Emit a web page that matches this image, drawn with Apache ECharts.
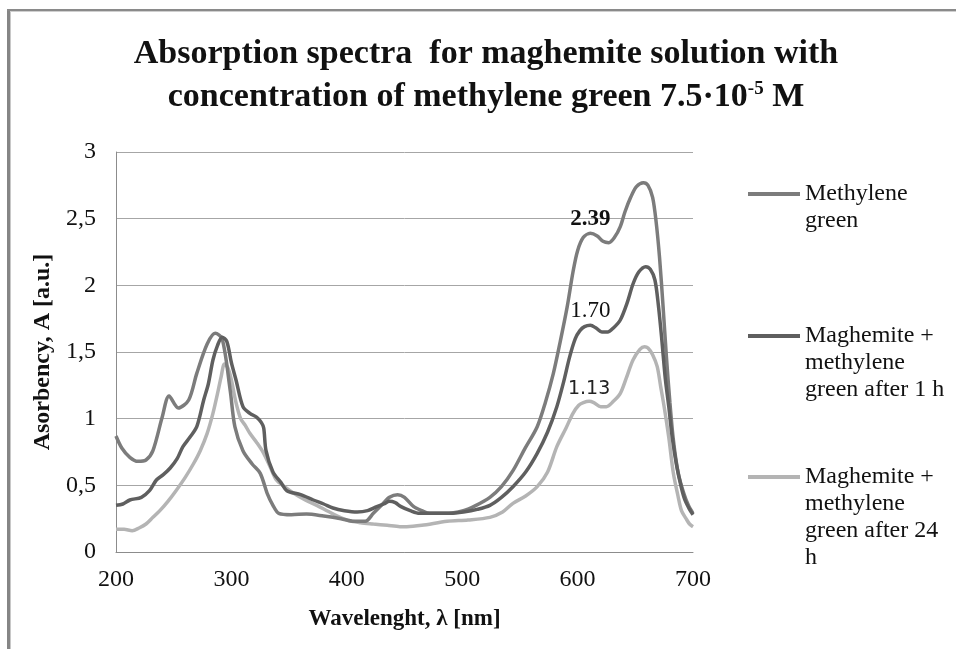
<!DOCTYPE html>
<html><head><meta charset="utf-8">
<script src="https://cdn.jsdelivr.net/npm/echarts@6/dist/echarts.min.js"></script>
<style>html,body{margin:0;padding:0;background:#fff}#c{width:956px;height:649px}</style>
</head><body><div id="c"></div>
<script>
var seriesNames = ['Methylene\ngreen', 'Maghemite +\nmethylene\ngreen after 1 h', 'Maghemite +\nmethylene\ngreen after 24\nh'];

var mgX = [200,205,212,219,226,232,240,246,254,263,270,279,286,292,299,303,310,318,325,331,336,341,352,365,380,395,406,416,423,430,437,444,450,458,465,472,485,501,512,524,534,544,554,565,572,579,585,591,596,600,605,611,617,622,627,632,637,641,646,651,657,661,665,668,671,674,677,680,683,687,692,696,700];
var mgY = [0.87,0.78,0.71,0.68,0.69,0.76,1.01,1.17,1.08,1.14,1.34,1.56,1.64,1.60,1.21,0.94,0.76,0.66,0.59,0.44,0.35,0.29,0.28,0.285,0.27,0.25,0.23,0.23,0.29,0.35,0.41,0.43,0.41,0.34,0.31,0.29,0.29,0.31,0.35,0.41,0.49,0.61,0.77,0.94,1.12,1.34,1.58,1.84,2.1,2.26,2.36,2.39,2.37,2.33,2.32,2.36,2.44,2.55,2.66,2.74,2.77,2.75,2.66,2.48,2.21,1.85,1.46,1.12,0.84,0.6,0.44,0.35,0.29];

var h1X = [200,206,212,222,229,235,241,247,253,258,264,270,276,280,284,288,292,296,300,304,310,316,322,326,328,330,336,343,348,360,371,380,388,398,409,418,426,432,437,442,447,455,463,475,490,501,513,524,534,544,555,565,574,582,588,593,598,602,606,611,616,621,626,631,637,643,648,653,659,663,667,670,673,676,679,682,686,690,693,697,700];
var h1Y = [0.35,0.36,0.39,0.41,0.46,0.54,0.58,0.63,0.70,0.79,0.86,0.94,1.14,1.26,1.44,1.55,1.61,1.58,1.42,1.29,1.09,1.04,1.01,0.97,0.93,0.76,0.60,0.52,0.46,0.43,0.39,0.36,0.33,0.31,0.30,0.31,0.34,0.36,0.38,0.37,0.34,0.31,0.29,0.29,0.29,0.30,0.32,0.35,0.41,0.49,0.6,0.74,0.9,1.09,1.28,1.46,1.6,1.66,1.69,1.70,1.68,1.65,1.65,1.68,1.74,1.87,2.01,2.1,2.14,2.12,2.04,1.85,1.59,1.3,1.09,0.86,0.64,0.48,0.39,0.32,0.28];

var h24X = [200,207,214,220,226,232,238,245,252,260,267,273,279,284,288,291,294,297,300,304,308,312,316,322,328,334,339,346,354,364,374,387,400,412,423,435,446,452,465,487,505,524,535,544,555,565,574,582,590,596,601,605,610,614,620,625,631,637,642,648,654,658,661,665,669,672,675,679,683,687,690,694,697,700];
var h24Y = [0.17,0.17,0.16,0.18,0.21,0.26,0.31,0.38,0.46,0.56,0.66,0.76,0.89,1.04,1.19,1.31,1.41,1.38,1.29,1.12,1.0,0.95,0.89,0.82,0.74,0.63,0.54,0.49,0.44,0.39,0.35,0.29,0.24,0.22,0.21,0.20,0.19,0.19,0.2,0.23,0.24,0.26,0.3,0.365,0.42,0.49,0.6,0.79,0.93,1.04,1.1,1.12,1.13,1.12,1.09,1.09,1.13,1.19,1.3,1.44,1.52,1.54,1.53,1.48,1.39,1.24,1.09,0.86,0.59,0.42,0.31,0.25,0.21,0.19];

var peakLabelX = [611, 611, 610];
var xTicks = {min: 200, max: 700, interval: 100};
var yTicks = {min: 0, max: 3, interval: 0.5};

var serif = 'Liberation Serif';
var labelStyles = [
  {fontFamily: serif, fontWeight: 'bold', fontSize: 23, color: '#111'},
  {fontFamily: serif, fontWeight: 'normal', fontSize: 23, color: '#111'},
  {fontFamily: 'DejaVu Sans', fontWeight: 'normal', fontSize: 19, color: '#222'}
];

function peakMark(xs, ys, idx) {
  var i = xs.indexOf(peakLabelX[idx]);
  return {
    symbol: 'circle', symbolSize: 2, silent: true,
    itemStyle: {color: 'rgba(0,0,0,0)'},
    label: Object.assign({show: true, position: 'top', distance: 2,
      formatter: function (p) { return Number(p.value).toFixed(2); }}, labelStyles[idx]),
    data: [{coord: [xs[i], ys[i]], value: ys[i]}]
  };
}

function pairs(xs, ys) { return xs.map(function (x, i) { return [x, ys[i]]; }); }

var colors = ['#7c7c7c', '#5f5f5f', '#b4b4b4'];
var lineH = 27;
var legendCenters = [194, 336, 477];
var legends = seriesNames.map(function (name, i) {
  var n = name.split('\n').length;
  var pad = new Array(n).join('\n');
  return {
    left: 748, top: legendCenters[i] - (2 * n - 1) * lineH / 2,
    padding: 0, itemWidth: 52, itemHeight: 4, icon: 'rect',
    data: [name],
    formatter: function (nm) { return pad + nm; },
    textStyle: {fontFamily: serif, fontSize: 24, lineHeight: lineH, color: '#111'},
    selectedMode: false
  };
});

var chart = echarts.init(document.getElementById('c'));
chart.setOption({
  animation: false,
  backgroundColor: '#fff',
  color: colors,
  title: {
    text: 'Absorption spectra  for maghemite solution with\nconcentration of methylene green 7.5·10{sup|-5} M',
    left: 481, top: 28, textAlign: 'center', padding: 5,
    textStyle: {fontFamily: serif, fontWeight: 'bold', fontSize: 34, lineHeight: 43, color: '#111',
      rich: {sup: {fontFamily: serif, fontWeight: 'bold', fontSize: 19, padding: [0, 0, 16, 0], color: '#111'}}}
  },
  legend: legends,
  graphic: [
    {type: 'line', shape: {x1: 8.5, y1: 9, x2: 8.5, y2: 649}, style: {stroke: '#858585', lineWidth: 3}, silent: true},
    {type: 'line', shape: {x1: 10.5, y1: 11, x2: 10.5, y2: 649}, style: {stroke: '#c8c8c8', lineWidth: 1}, silent: true},
    {type: 'line', shape: {x1: 7, y1: 10, x2: 956, y2: 10}, style: {stroke: '#8a8a8a', lineWidth: 2}, silent: true},
    {type: 'line', shape: {x1: 10, y1: 11.5, x2: 956, y2: 11.5}, style: {stroke: '#cfcfcf', lineWidth: 1}, silent: true}
  ],
  grid: {left: 116, right: 263, top: 152, bottom: 97},
  xAxis: {
    type: 'value', min: xTicks.min, max: xTicks.max, interval: xTicks.interval,
    name: 'Wavelenght, λ [nm]', nameLocation: 'middle', nameGap: 56,
    nameTextStyle: {fontFamily: serif, fontWeight: 'bold', fontSize: 23, color: '#111'},
    axisLine: {show: true, onZero: false, lineStyle: {color: '#8c8c8c', width: 1}},
    axisTick: {show: false},
    splitLine: {show: false},
    axisLabel: {fontFamily: serif, fontSize: 24, color: '#111', margin: 16}
  },
  yAxis: {
    type: 'value', min: yTicks.min, max: yTicks.max, interval: yTicks.interval,
    name: 'Asorbency, A [a.u.]', nameLocation: 'middle', nameGap: 46, nameRotate: 90,
    nameTextStyle: {fontFamily: serif, fontWeight: 'bold', fontSize: 24, color: '#111'},
    axisLine: {show: true, lineStyle: {color: '#8c8c8c', width: 1}},
    axisTick: {show: false},
    splitLine: {show: true, lineStyle: {color: '#a6a6a6', width: 1}},
    axisLabel: {fontFamily: serif, fontSize: 24, color: '#111', margin: 20,
      formatter: function (v) { return String(v).replace('.', ','); }}
  },
  series: [
    {name: seriesNames[0], type: 'line', smooth: 0.3, symbol: 'none', lineStyle: {width: 3.5, color: colors[0]}, data: pairs(mgX, mgY), markPoint: peakMark(mgX, mgY, 0), z: 3},
    {name: seriesNames[1], type: 'line', smooth: 0.3, symbol: 'none', lineStyle: {width: 3.5, color: colors[1]}, data: pairs(h1X, h1Y), markPoint: peakMark(h1X, h1Y, 1), z: 4},
    {name: seriesNames[2], type: 'line', smooth: 0.3, symbol: 'none', lineStyle: {width: 3.5, color: colors[2]}, data: pairs(h24X, h24Y), markPoint: peakMark(h24X, h24Y, 2), z: 2}
  ]
});
</script>
</body></html>
